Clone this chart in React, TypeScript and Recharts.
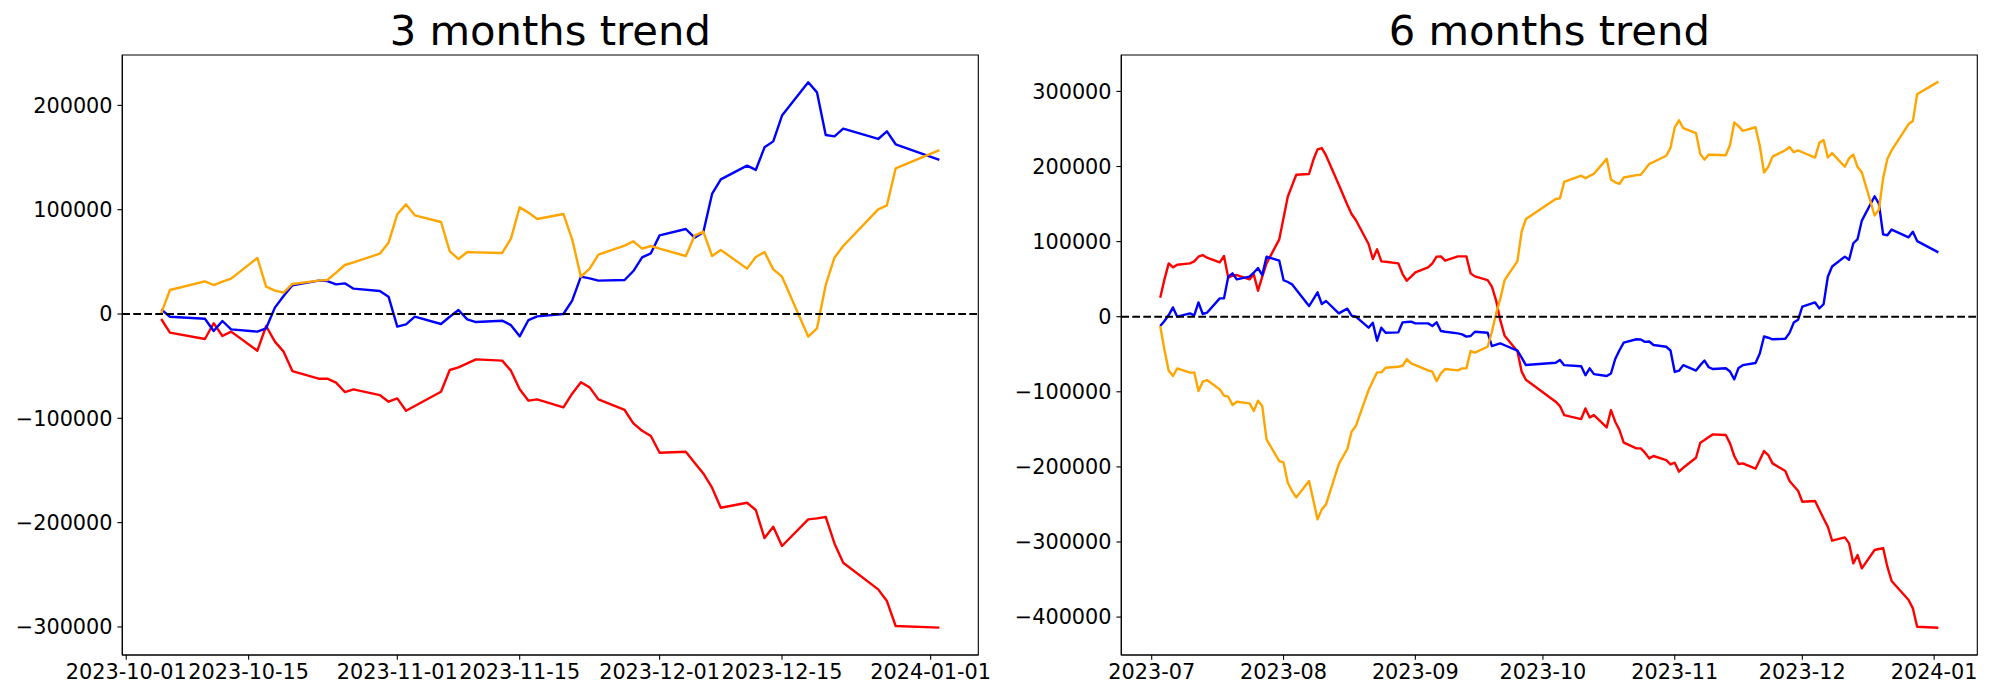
import React from 'react';
import { LineChart, Line, XAxis, YAxis, ReferenceLine, ReferenceArea } from 'recharts';

// Trading days (KRX) covered by the 6-month panel
const tradingDays: string[] = [
  '2023-07-03', '2023-07-04', '2023-07-05', '2023-07-06', '2023-07-07',
  '2023-07-10', '2023-07-11', '2023-07-12', '2023-07-13', '2023-07-14',
  '2023-07-17', '2023-07-18', '2023-07-19', '2023-07-20', '2023-07-21',
  '2023-07-24', '2023-07-25', '2023-07-26', '2023-07-27', '2023-07-28',
  '2023-07-31',
  '2023-08-01', '2023-08-02', '2023-08-03', '2023-08-04',
  '2023-08-07', '2023-08-08', '2023-08-09', '2023-08-10', '2023-08-11',
  '2023-08-14',
  '2023-08-16', '2023-08-17', '2023-08-18',
  '2023-08-21', '2023-08-22', '2023-08-23', '2023-08-24', '2023-08-25',
  '2023-08-28', '2023-08-29', '2023-08-30', '2023-08-31',
  '2023-09-01',
  '2023-09-04', '2023-09-05', '2023-09-06', '2023-09-07', '2023-09-08',
  '2023-09-11', '2023-09-12', '2023-09-13', '2023-09-14', '2023-09-15',
  '2023-09-18', '2023-09-19', '2023-09-20', '2023-09-21', '2023-09-22',
  '2023-09-25', '2023-09-26', '2023-09-27',
  '2023-10-04', '2023-10-05', '2023-10-06',
  '2023-10-10', '2023-10-11', '2023-10-12', '2023-10-13',
  '2023-10-16', '2023-10-17', '2023-10-18', '2023-10-19', '2023-10-20',
  '2023-10-23', '2023-10-24', '2023-10-25', '2023-10-26', '2023-10-27',
  '2023-10-30', '2023-10-31',
  '2023-11-01', '2023-11-02', '2023-11-03',
  '2023-11-06', '2023-11-07', '2023-11-08', '2023-11-09', '2023-11-10',
  '2023-11-13', '2023-11-14', '2023-11-15', '2023-11-16', '2023-11-17',
  '2023-11-20', '2023-11-21', '2023-11-22', '2023-11-23', '2023-11-24',
  '2023-11-27', '2023-11-28', '2023-11-29', '2023-11-30',
  '2023-12-01',
  '2023-12-04', '2023-12-05', '2023-12-06', '2023-12-07', '2023-12-08',
  '2023-12-11', '2023-12-12', '2023-12-13', '2023-12-14', '2023-12-15',
  '2023-12-18', '2023-12-19', '2023-12-20', '2023-12-21', '2023-12-22',
  '2023-12-26', '2023-12-27', '2023-12-28',
  '2024-01-02',
];

// 6 months trend series
const red6m: number[] = [
  25300, 49700, 71000, 65700, 69200, 71000, 73700, 79900, 82100, 78600,
  72400, 80800, 51900, 54600, 55500, 49700, 56400, 34600, 53300, 71000, 103000,
  131400, 159800, 174500, 189100, 190000, 208600, 222800, 224600, 214800,
  175600, 149100, 136700, 128700, 96800, 76800, 89700, 73700, 73200,
  71000, 56800, 47900, 53300,
  59000, 65700, 71000, 79900, 80300, 74600, 80300, 80300, 80300, 57700, 53700,
  48800, 40000, 21300, -5300, -25500, -46000, -73200, -84000,
  -113200, -119000, -131000, -136300, -122100, -134100, -131000,
  -147400, -124300, -139800, -150900, -167800, -175300, -175300, -181100, -188700, -185500,
  -190900, -196700,
  -194400, -206400, -201200, -187800, -167800, -164200, -160300, -156700,
  -157600, -168700, -185500, -196200, -195300, -202400, -190900, -178900, -184200, -195300,
  -205500, -218800, -225500, -231700,
  -246400, -245500, -257000, -268600, -279700, -298300,
  -293900, -301900, -328500, -317400, -335100,
  -310700, -309400, -308100, -332900, -352000,
  -377300, -388400, -412800,
  -414200,
];

const blue6m: number[] = [
  -12400, -5800, 2200, 12400, 0, 4400, 1800, 19100, 3600, 5300,
  24400, 24400, 53300, 57700, 49700, 53300, 58600, 64800, 55500, 79900, 74600,
  48800, 46200, 43100, 36000, 14200, 23100, 32400, 16900, 20900,
  4400, 10700, 1300, 0, -14600, -8000, -32000, -14600, -21300,
  -20900, -7500, -7100, -6700,
  -8900, -8900, -12400, -7500, -19100, -20000, -22200, -23500, -26600, -25700, -20000,
  -21300, -39100, -37300, -35500, -38000, -45300, -54600, -64400,
  -61300, -57500, -64500, -66000, -78000, -68800, -76500,
  -79000, -75600, -56300, -44700, -34500, -30000, -30400, -33500, -33000, -37700,
  -40000, -45000,
  -73600, -71900, -64500, -71700, -64500, -58400, -67300, -69700,
  -68600, -72900, -83400, -68300, -64500, -61600, -49000, -26400, -28000, -30100,
  -29400, -21500, -7800, -4100,
  13300, 19000, 11100, 16600, 53200, 66800,
  80000, 75800, 97800, 103400, 128000,
  160400, 150700, 109600, 108500, 116000,
  105700, 113000, 100700,
  85700,
];

const orange6m: number[] = [
  -12400, -44400, -71900, -79000, -68800, -74600, -74100, -99000, -86600, -84300,
  -96800, -105200, -106500, -117600, -113200, -115400, -125600, -111900, -119000, -163400, -192200,
  -194000, -221100, -232200, -240600, -218800, -244100, -269900, -256600, -249900,
  -196200, -176200, -153200, -145600, -97700, -85700, -74100, -74100, -67900,
  -66600, -65300, -56400, -62100,
  -64400, -71500, -73200, -85700, -75500, -69700, -71500, -68800, -68800, -45700, -47900,
  -40000, -20000, 4400, 24400, 48800, 74100, 113200, 130100,
  156700, 157600, 179400, 187800, 184300, 187500, 190300,
  210200, 182700, 178900, 177000, 185300, 188500, 189100, 196100, 203500, 206000,
  214300, 224900,
  252000, 261500, 251000, 244600, 216600, 209200, 215900, 215600,
  215000, 228600, 258600, 253800, 247500, 252300, 227600, 192000, 199500, 213200,
  221700, 226000, 219000, 221500,
  219000, 211800, 231500, 235200, 212000, 217800,
  199700, 211000, 215800, 199200, 192200,
  134800, 142400, 184400, 210000, 221600,
  256500, 260500, 296300,
  313000,
];

// 3 months trend (from 2023-10-05)
const dates3m: string[] = tradingDays.slice(tradingDays.indexOf('2023-10-05'));

const red3m: number[] = [
  -4800, -17900, -24000, -8900, -21100, -16900,
  -35200, -11500, -26500, -36100, -54700, -62000, -62000, -65800, -74800, -72200,
  -77700, -84100,
  -80900, -92700, -88200, -74500, -53700, -51100, -47300, -43500,
  -44700, -54300, -72200, -83100, -81800, -89500, -76400, -65500, -70300, -81800,
  -92000, -104800, -111900, -117000,
  -133000, -132000, -142500, -152800, -166500, -185700,
  -180900, -187900, -214800, -203900, -222400,
  -196900, -195900, -194600, -219900, -238400,
  -264000, -275200, -299100,
  -300700,
];

const blue3m: number[] = [
  4500, -2600, -4500, -16300, -6700, -14700,
  -16900, -13700, 6100, 17300, 27500, 32000, 31600, 28400, 29400, 24300,
  22100, 16600,
  -12100, -9900, -2600, -9600, -2600, 3800, -5100, -7700,
  -6400, -10700, -21400, -5800, -2300, 0, 12800, 35800, 34200, 32000,
  32600, 41200, 54300, 58200,
  75400, 81500, 73200, 78300, 115100, 129100,
  142200, 138100, 159800, 165500, 190200,
  222100, 212500, 171600, 170300, 177700,
  167800, 175100, 162700,
  147700,
];

const orange3m: number[] = [
  600, 23000, 31300, 27800, 31000, 33900,
  53700, 26200, 22400, 20500, 28800, 32000, 32600, 39600, 47000, 49500,
  57800, 68400,
  95600, 105100, 94600, 88200, 60100, 52700, 59400, 59100,
  58500, 72200, 102300, 97200, 91100, 95900, 71600, 35800, 43500, 56900,
  65500, 69700, 62600, 65200,
  62600, 55600, 75100, 78900, 55600, 61400,
  43500, 54600, 59400, 42800, 35800,
  -21700, -13700, 27800, 54000, 65200,
  100300, 104200, 139700,
  157200,
];

// Axis ticks
const xTicks3m: string[] = ['2023-10-01', '2023-10-15', '2023-11-01', '2023-11-15', '2023-12-01', '2023-12-15', '2024-01-01'];
const xLabels3m: string[] = ['2023-10-01', '2023-10-15', '2023-11-01', '2023-11-15', '2023-12-01', '2023-12-15', '2024-01-01'];
const xTicks6m: string[] = ['2023-07-01', '2023-08-01', '2023-09-01', '2023-10-01', '2023-11-01', '2023-12-01', '2024-01-01'];
const xLabels6m: string[] = ['2023-07', '2023-08', '2023-09', '2023-10', '2023-11', '2023-12', '2024-01'];
const yTicks3m: number[] = [-300000, -200000, -100000, 0, 100000, 200000];
const yTicks6m: number[] = [-400000, -300000, -200000, -100000, 0, 100000, 200000, 300000];
const yDomain3m: [number, number] = [-326900, 248300];
const yDomain6m: [number, number] = [-450500, 348500];

const titles: string[] = ['3 months trend', '6 months trend'];

const FONT = 'DejaVu Sans';
const LW = 2.4;
const toDay = (s: string) => Date.parse(s + 'T00:00:00Z') / 86400000;

type PanelProps = {
  left: number;
  dates: string[];
  red: number[];
  blue: number[];
  orange: number[];
  xTicks: string[];
  xLabels: string[];
  yTicks: number[];
  yDomain: [number, number];
  yAxisWidth: number;
  marginRight: number;
};

function Panel(p: PanelProps) {
  const data = p.dates.map((d, i) => ({ t: toDay(d), red: p.red[i], blue: p.blue[i], orange: p.orange[i] }));
  const t0 = data[0].t;
  const t1 = data[data.length - 1].t;
  const pad = (t1 - t0) * 0.05;
  const xDomain: [number, number] = [t0 - pad, t1 + pad];
  const tickVals = p.xTicks.map(toDay);
  const fmtX = (v: number) => {
    const i = tickVals.findIndex((tv) => Math.abs(tv - v) < 1e-6);
    return i >= 0 ? p.xLabels[i] : '';
  };
  const fmtY = (v: number) => String(v).replace('-', '\u2212');
  const tickStyle = { fill: '#000', fontSize: 20.8, fontFamily: FONT };
  const axisLine = { stroke: '#000', strokeWidth: 1.1 };
  return (
    <div style={{ position: 'absolute', left: p.left, top: 0, width: 1000, height: 700 }}>
      <LineChart
        width={1000}
        height={700}
        data={data}
        margin={{ top: 55, right: p.marginRight, bottom: 0, left: 0 }}
      >
        <XAxis
          dataKey="t"
          type="number"
          domain={xDomain}
          allowDataOverflow
          ticks={tickVals}
          tickFormatter={fmtX}
          interval={0}
          height={45}
          tickSize={4.86}
          tickMargin={4.86}
          tick={tickStyle}
          axisLine={axisLine}
          tickLine={axisLine}
        />
        <YAxis
          type="number"
          domain={p.yDomain}
          allowDataOverflow
          ticks={p.yTicks}
          tickFormatter={fmtY}
          interval={0}
          width={p.yAxisWidth}
          tickSize={4.86}
          tickMargin={4.86}
          tick={tickStyle}
          axisLine={axisLine}
          tickLine={axisLine}
        />
        <ReferenceArea
          x1={xDomain[0]}
          x2={xDomain[1]}
          y1={p.yDomain[0]}
          y2={p.yDomain[1]}
          fill="none"
          fillOpacity={0}
          stroke="#000"
          strokeWidth={1.1}
          ifOverflow="visible"
        />
        <Line type="linear" dataKey="red" stroke="#ff0000" strokeWidth={LW} dot={false} activeDot={false} isAnimationActive={false} strokeLinejoin="round" />
        <Line type="linear" dataKey="blue" stroke="#0000ff" strokeWidth={LW} dot={false} activeDot={false} isAnimationActive={false} strokeLinejoin="round" />
        <Line type="linear" dataKey="orange" stroke="#ffa500" strokeWidth={LW} dot={false} activeDot={false} isAnimationActive={false} strokeLinejoin="round" />
        <ReferenceLine y={0} stroke="#000" strokeWidth={2.08} strokeDasharray="7.7 3.3" ifOverflow="visible" />
      </LineChart>
    </div>
  );
}

export default function App() {
  return (
    <div style={{ position: 'absolute', left: 0, top: 0, width: 2000, height: 700, background: '#fff', fontFamily: FONT }}>
      <Panel
        left={0}
        dates={dates3m}
        red={red3m}
        blue={blue3m}
        orange={orange3m}
        xTicks={xTicks3m}
        xLabels={xLabels3m}
        yTicks={yTicks3m}
        yDomain={yDomain3m}
        yAxisWidth={122.3}
        marginRight={21.7}
      />
      <Panel
        left={1000}
        dates={tradingDays}
        red={red6m}
        blue={blue6m}
        orange={orange6m}
        xTicks={xTicks6m}
        xLabels={xLabels6m}
        yTicks={yTicks6m}
        yDomain={yDomain6m}
        yAxisWidth={121.3}
        marginRight={22.7}
      />
      <svg width={2000} height={700} style={{ position: 'absolute', left: 0, top: 0, pointerEvents: 'none' }}>
        <text x={550.3} y={45} textAnchor="middle" fontSize={41.7} fontFamily={FONT} fill="#000">{titles[0]}</text>
        <text x={1549.3} y={45} textAnchor="middle" fontSize={41.7} fontFamily={FONT} fill="#000">{titles[1]}</text>
      </svg>
    </div>
  );
}
